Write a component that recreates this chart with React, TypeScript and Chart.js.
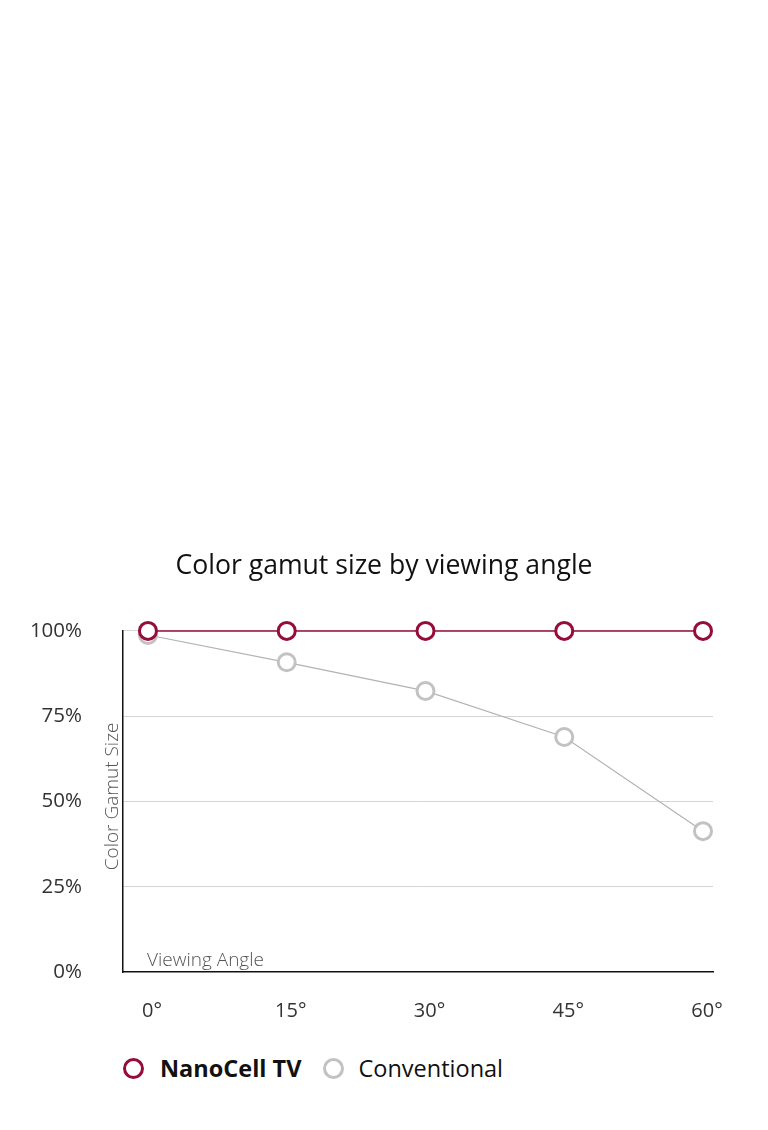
import { useEffect, useRef } from 'react'
import { Chart, registerables } from 'chart.js'

Chart.register(...registerables)

const angles = [0, 15, 30, 45, 60]
const nanoCell = [100, 100, 100, 100, 100]
const conventional = [98.8, 90.8, 82.4, 68.9, 41.3]
const yTicks = [0, 25, 50, 75, 100]

const RED = '#960c3c'
const GREY = '#c2c2c2'
const FONT = '"Open Sans", sans-serif'

const axisTexts = {
  id: 'axisTexts',
  afterDraw(chart: Chart) {
    const { ctx, chartArea } = chart
    ctx.save()
    ctx.fillStyle = '#555'
    ctx.font = `300 19px ${FONT}`
    ctx.textBaseline = 'alphabetic'
    ctx.textAlign = 'left'
    ctx.fillText('Viewing Angle', chartArea.left + 24, chartArea.bottom - 6)
    ctx.translate(chartArea.left - 5, (chartArea.top + chartArea.bottom) / 2 - 5)
    ctx.rotate(-Math.PI / 2)
    ctx.textAlign = 'center'
    ctx.fillText('Color Gamut Size', 0, 0)
    ctx.restore()
  },
}

export default function App() {
  const ref = useRef<HTMLCanvasElement>(null)

  useEffect(() => {
    document.body.style.margin = '0'
    if (!ref.current) return
    const chart = new Chart(ref.current, {
      type: 'line',
      data: {
        datasets: [
          {
            label: 'NanoCell TV',
            data: angles.map((a, i) => ({ x: a, y: nanoCell[i] })),
            borderColor: RED,
            borderWidth: 1.5,
            pointRadius: 8.5,
            pointBorderWidth: 3,
            pointBorderColor: RED,
            pointBackgroundColor: '#fff',
            clip: false,
          },
          {
            label: 'Conventional',
            data: angles.map((a, i) => ({ x: a, y: conventional[i] })),
            borderColor: '#b3b3b3',
            borderWidth: 1.2,
            pointRadius: 8.5,
            pointBorderWidth: 3,
            pointBorderColor: GREY,
            pointBackgroundColor: '#fff',
            clip: false,
          },
        ],
      },
      options: {
        animation: false,
        responsive: false,
        layout: { padding: 0 },
        plugins: {
          legend: { display: false },
          tooltip: { enabled: false },
          title: {
            display: true,
            text: 'Color gamut size by viewing angle',
            color: '#111',
            font: { family: FONT, size: 26.6, weight: 'normal' },
            padding: { top: 550, bottom: 49 },
          },
        },
        scales: {
          x: {
            type: 'linear',
            min: -2.7,
            max: 61.08,
            afterBuildTicks: (s: any) => { s.ticks = angles.map((v) => ({ value: v })) },
            afterFit: (s: any) => { s.height = 73 },
            grid: { display: false },
            border: { display: true, color: '#111', width: 1.5 },
            ticks: {
              padding: 19,
              labelOffset: 4,
              color: '#333',
              font: { family: FONT, size: 20 },
              callback: (v: any) => `${v}°`,
            },
          },
          y: {
            min: 0,
            max: 100,
            afterBuildTicks: (s: any) => { s.ticks = yTicks.map((v) => ({ value: v })) },
            afterFit: (s: any) => { s.width = 123 },
            grid: {
              drawTicks: false,
              color: (c: any) => (c.tick && c.tick.value === 0 ? 'rgba(0,0,0,0)' : '#d4d4d4'),
              lineWidth: 1,
            },
            border: { display: true, color: '#111', width: 1.5 },
            ticks: {
              padding: 41,
              color: '#333',
              font: { family: FONT, size: 20.5 },
              callback: (v: any) => `${v}%`,
            },
          },
          // empty right-hand gutter so the plot ends at 713px
          gutter: {
            axis: 'y',
            position: 'right',
            display: true,
            grid: { display: false },
            border: { display: false },
            ticks: { display: false },
            afterFit: (s: any) => { s.width = 55 },
          },
        },
      },
      plugins: [axisTexts],
    })
    return () => { chart.destroy() }
  }, [])

  const ring = (color: string) => ({
    width: 15,
    height: 15,
    borderRadius: '50%',
    border: `3px solid ${color}`,
    boxSizing: 'content-box' as const,
    display: 'inline-block',
  })

  return (
    <div style={{ position: 'relative', width: 768, height: 1130, background: '#fff' }}>
      <canvas ref={ref} width={768} height={1045} style={{ display: 'block', width: 768, height: 1045 }} />
      <div
        style={{
          position: 'absolute',
          top: 1052,
          left: 123,
          height: 32,
          display: 'flex',
          alignItems: 'center',
          fontFamily: FONT,
          fontSize: 23.5,
          color: '#111',
        }}
      >
        <span style={ring(RED)} />
        <span style={{ fontWeight: 700, marginLeft: 16 }}>NanoCell TV</span>
        <span style={{ ...ring(GREY), marginLeft: 22 }} />
        <span style={{ marginLeft: 14 }}>Conventional</span>
      </div>
    </div>
  )
}
